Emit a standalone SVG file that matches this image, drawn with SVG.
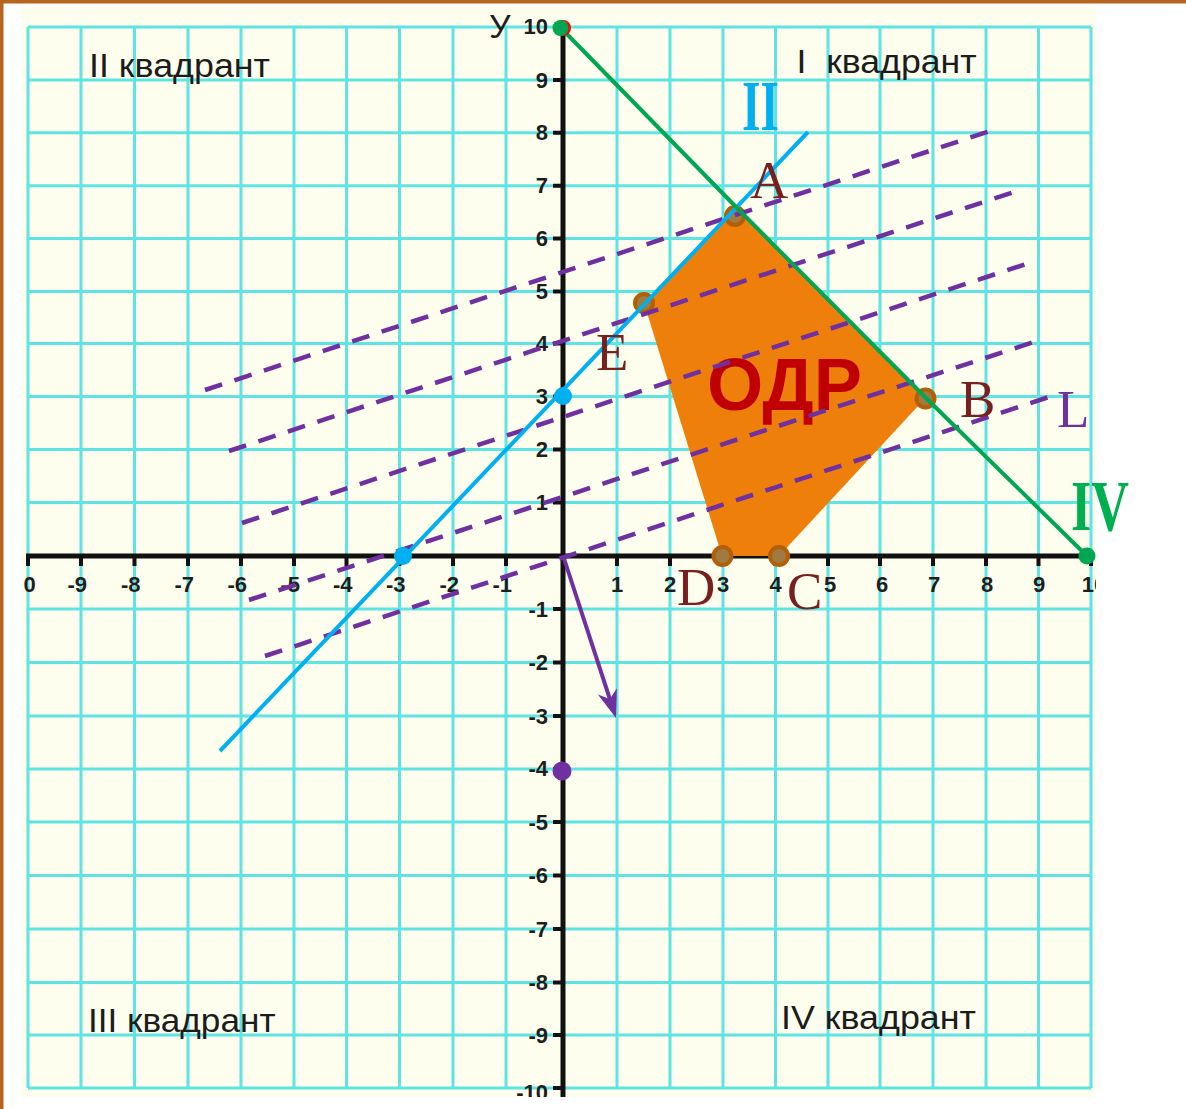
<svg xmlns="http://www.w3.org/2000/svg" width="1186" height="1109" viewBox="0 0 1186 1109">
<defs>
<style>
.grid line{stroke:#5fe4e4;stroke-width:3}
.axis{stroke:#111;stroke-width:5;fill:none}
.tick{stroke:#111;stroke-width:4}
.tl{font-family:"Liberation Sans",Arial,sans-serif;font-weight:bold;font-size:22px;fill:#1e1e1e}
.q{font-family:"Liberation Sans",Arial,sans-serif;font-size:33px;fill:#1c1c1c}
.pt{font-family:"Liberation Serif","Times New Roman",serif;font-size:53px;fill:#7a1f1f}
.dash{stroke:#7030a0;stroke-width:4.5;stroke-dasharray:18 13;fill:none}
.vdot{fill:#a07a40;stroke:#b35f05;stroke-width:4}
.bdot{fill:#00b0f0}
</style>
<clipPath id="clip"><rect x="21" y="6" width="1075" height="1091"/></clipPath>
<marker id="arr" viewBox="-20 -12 40 24" markerWidth="40" markerHeight="24" refX="0" refY="0" orient="auto" markerUnits="userSpaceOnUse">
<path d="M14,0 L-14,-10 L-6,0 L-14,10 Z" fill="#7030a0"/>
</marker>
</defs>
<rect x="0" y="0" width="1186" height="1109" fill="#ffffff"/>
<rect x="0" y="0" width="1186" height="3.5" fill="#b5651d"/>
<rect x="0" y="0" width="3.5" height="1109" fill="#b5651d"/>
<g clip-path="url(#clip)">
<rect x="21" y="6" width="1075" height="1091" fill="#fefeee"/>
<g id="grid" class="grid">
<line x1="28" y1="27" x2="28" y2="1088"/><line x1="81" y1="27" x2="81" y2="1088"/><line x1="134.5" y1="27" x2="134.5" y2="1088"/><line x1="188" y1="27" x2="188" y2="1088"/><line x1="241" y1="27" x2="241" y2="1088"/><line x1="294" y1="27" x2="294" y2="1088"/><line x1="346.5" y1="27" x2="346.5" y2="1088"/><line x1="399.5" y1="27" x2="399.5" y2="1088"/><line x1="453" y1="27" x2="453" y2="1088"/><line x1="506" y1="27" x2="506" y2="1088"/><line x1="617" y1="27" x2="617" y2="1088"/><line x1="670" y1="27" x2="670" y2="1088"/><line x1="723" y1="27" x2="723" y2="1088"/><line x1="775.5" y1="27" x2="775.5" y2="1088"/><line x1="828" y1="27" x2="828" y2="1088"/><line x1="880" y1="27" x2="880" y2="1088"/><line x1="933" y1="27" x2="933" y2="1088"/><line x1="986" y1="27" x2="986" y2="1088"/><line x1="1038.5" y1="27" x2="1038.5" y2="1088"/><line x1="1091" y1="27" x2="1091" y2="1088"/>
<line x1="28" y1="27" x2="1091" y2="27"/><line x1="28" y1="80" x2="1091" y2="80"/><line x1="28" y1="132.7" x2="1091" y2="132.7"/><line x1="28" y1="185.7" x2="1091" y2="185.7"/><line x1="28" y1="238.5" x2="1091" y2="238.5"/><line x1="28" y1="291.5" x2="1091" y2="291.5"/><line x1="28" y1="343.5" x2="1091" y2="343.5"/><line x1="28" y1="396.5" x2="1091" y2="396.5"/><line x1="28" y1="449.5" x2="1091" y2="449.5"/><line x1="28" y1="502.5" x2="1091" y2="502.5"/><line x1="28" y1="609" x2="1091" y2="609"/><line x1="28" y1="662.5" x2="1091" y2="662.5"/><line x1="28" y1="716" x2="1091" y2="716"/><line x1="28" y1="769" x2="1091" y2="769"/><line x1="28" y1="822" x2="1091" y2="822"/><line x1="28" y1="875.5" x2="1091" y2="875.5"/><line x1="28" y1="929" x2="1091" y2="929"/><line x1="28" y1="982.5" x2="1091" y2="982.5"/><line x1="28" y1="1035" x2="1091" y2="1035"/><line x1="28" y1="1088" x2="1091" y2="1088"/>
</g>
<g id="axes">
<line class="axis" x1="26" y1="556" x2="1092" y2="556"/>
<line class="axis" x1="563" y1="30" x2="563" y2="1097"/>
<path class="tick" d="M28,556v10M81,556v10M134.5,556v10M188,556v10M241,556v10M294,556v10M346.5,556v10M399.5,556v10M453,556v10M506,556v10M617,556v10M670,556v10M723,556v10M775.5,556v10M828,556v10M880,556v10M933,556v10M986,556v10M1038.5,556v10M1091,556v10"/>
<path class="tick" d="M553,27h10M553,80h10M553,132.7h10M553,185.7h10M553,238.5h10M553,291.5h10M553,343.5h10M553,396.5h10M553,449.5h10M553,502.5h10M553,609h10M553,662.5h10M553,716h10M553,769h10M553,822h10M553,875.5h10M553,929h10M553,982.5h10M553,1035h10M553,1088h10"/>
</g>
<g id="x-labels" class="tl">
<text x="29.5" y="592" text-anchor="middle">0</text>
<text x="87" y="592" text-anchor="end">-9</text>
<text x="140.5" y="592" text-anchor="end">-8</text>
<text x="194" y="592" text-anchor="end">-7</text>
<text x="247" y="592" text-anchor="end">-6</text>
<text x="300" y="592" text-anchor="end">-5</text>
<text x="352.5" y="592" text-anchor="end">-4</text>
<text x="405.5" y="592" text-anchor="end">-3</text>
<text x="459" y="592" text-anchor="end">-2</text>
<text x="512" y="592" text-anchor="end">-1</text>
<text x="617" y="592" text-anchor="middle">1</text>
<text x="670" y="592" text-anchor="middle">2</text>
<text x="723" y="592" text-anchor="middle">3</text>
<text x="775.5" y="592" text-anchor="middle">4</text>
<text x="830" y="592" text-anchor="middle">5</text>
<text x="882" y="592" text-anchor="middle">6</text>
<text x="934" y="592" text-anchor="middle">7</text>
<text x="987" y="592" text-anchor="middle">8</text>
<text x="1039" y="592" text-anchor="middle">9</text>
<text x="1094" y="592" text-anchor="middle">10</text>
</g>
<g id="y-labels" class="tl" text-anchor="end">
<text x="548" y="33.5">10</text>
<text x="548" y="87.5">9</text>
<text x="548" y="140">8</text>
<text x="548" y="193">7</text>
<text x="548" y="246">6</text>
<text x="548" y="299">5</text>
<text x="548" y="351">4</text>
<text x="548" y="404">3</text>
<text x="548" y="457">2</text>
<text x="548" y="510">1</text>
<text x="548" y="616.5">-1</text>
<text x="548" y="670">-2</text>
<text x="548" y="723.5">-3</text>
<text x="548" y="776">-4</text>
<text x="548" y="829.5">-5</text>
<text x="548" y="883">-6</text>
<text x="548" y="936.5">-7</text>
<text x="548" y="990">-8</text>
<text x="548" y="1042.5">-9</text>
<text x="548" y="1100">-10</text>
</g>
<text id="y-axis-name" x="489" y="38" font-family="Liberation Sans, Arial, sans-serif" font-size="34" fill="#1e1e1e">У</text>
<g id="quadrants" class="q">
<text x="89" y="77" textLength="181" lengthAdjust="spacingAndGlyphs">II квадрант</text>
<text x="796.5" y="73" textLength="180" lengthAdjust="spacingAndGlyphs" xml:space="preserve">I  квадрант</text>
<text x="88" y="1031.5" textLength="187.5" lengthAdjust="spacingAndGlyphs">III квадрант</text>
<text x="781" y="1028.5" textLength="195" lengthAdjust="spacingAndGlyphs">IV квадрант</text>
</g>
<g id="odr">
<polygon points="644,303 736.5,207.5 925.5,398 779,556 722,556" fill="#ef7f0b"/>
<text x="707" y="410" font-family="Liberation Sans, Arial, sans-serif" font-weight="bold" font-size="74" fill="#c00000" textLength="155" lengthAdjust="spacingAndGlyphs">ОДР</text>
</g>
<g id="vertices">
<circle class="vdot" cx="735" cy="216" r="9"/>
<circle class="vdot" cx="644" cy="303" r="9"/>
<circle class="vdot" cx="925.5" cy="398.5" r="9"/>
<circle class="vdot" cx="779" cy="556" r="9"/>
<circle class="vdot" cx="722.5" cy="556" r="9"/>
</g>
<g id="connectors">
<line class="dash" x1="205" y1="390" x2="993" y2="130"/>
<line class="dash" x1="229" y1="451" x2="1017" y2="191"/>
<line class="dash" x1="242" y1="523" x2="1029" y2="263"/>
<line class="dash" x1="249" y1="600" x2="1040" y2="340"/>
<line class="dash" x1="265" y1="656" x2="1055" y2="395"/>
<line x1="220" y1="751" x2="808" y2="132" stroke="#00b0f0" stroke-width="4"/>
<polyline points="561,28 736.5,207.5 925.5,397.5 1087,556" stroke="#00a651" stroke-width="4" fill="none"/>
<line x1="563.5" y1="557" x2="611.7" y2="704.7" stroke="#7030a0" stroke-width="4" marker-end="url(#arr)"/>
</g>
<g id="points">
<circle class="bdot" cx="403" cy="556" r="9"/>
<circle class="bdot" cx="563" cy="396" r="9"/>
<circle cx="562" cy="771" r="9.5" fill="#7030a0"/>
<circle cx="1087" cy="556" r="8.5" fill="#00a651"/>
<circle cx="563" cy="28" r="8" fill="#ff0000"/>
<circle cx="560.5" cy="28" r="8" fill="#00a651"/>
</g>
</g>
<g id="labels">
<text class="pt" x="750" y="198">A</text>
<text class="pt" x="960" y="417">B</text>
<text class="pt" x="787" y="609">C</text>
<text class="pt" x="677" y="605">D</text>
<text class="pt" x="596" y="370">E</text>
<text class="pt" x="1057" y="427" style="fill:#7030a0">L</text>
<text x="742" y="130" font-family="Liberation Serif, Times New Roman, serif" font-weight="bold" font-size="71" fill="#00b0f0" textLength="37" lengthAdjust="spacingAndGlyphs">II</text>
<text x="1071" y="530" font-family="Liberation Serif, Times New Roman, serif" font-weight="bold" font-size="71" fill="#00b050" textLength="58" lengthAdjust="spacingAndGlyphs">IV</text>
</g>
</svg>
